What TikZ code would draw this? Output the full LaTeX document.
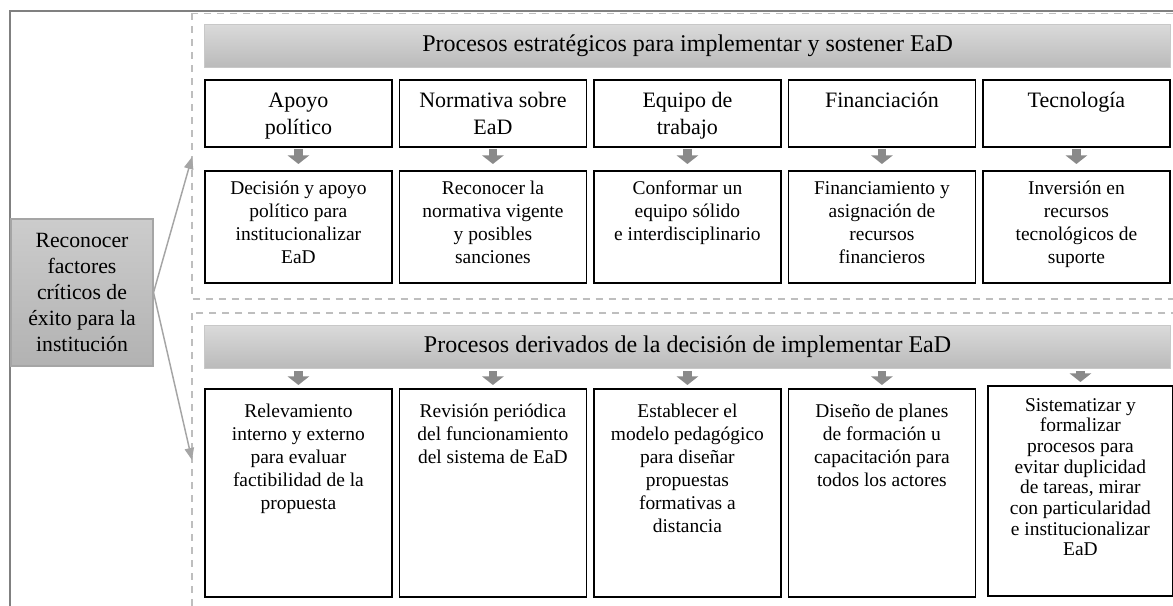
\documentclass[tikz,border=0pt]{standalone}
\usepackage{fontspec}
\setmainfont{Liberation Serif}
\usetikzlibrary{arrows.meta}
\definecolor{framec}{RGB}{128,128,128}
\definecolor{dashc}{RGB}{190,190,190}
\definecolor{bantop}{RGB}{218,218,218}
\definecolor{banbot}{RGB}{186,186,186}
\definecolor{banedge}{RGB}{200,200,200}
\definecolor{blkc}{RGB}{138,138,138}
\definecolor{lefttop}{RGB}{204,204,204}
\definecolor{leftbot}{RGB}{178,178,178}
\definecolor{leftedge}{RGB}{165,165,165}
\definecolor{thinc}{RGB}{165,165,165}
\newcommand{\cellA}[1]{\parbox[c][50.25pt][t]{140.25pt}{\centering\fontsize{16.5}{20}\selectfont\vspace*{7pt}\strut#1}}
\newcommand{\cellB}[1]{\parbox[c][84pt][t]{140.25pt}{\centering\fontsize{14.6}{17.3}\selectfont\vspace*{5.5pt}\strut#1}}
\newcommand{\cellC}[1]{\parbox[c][156pt][t]{140.25pt}{\centering\fontsize{14.6}{17.3}\selectfont\vspace*{9pt}\strut#1}}
\newcommand{\cellD}[1]{\parbox[c][157.5pt][t]{138.75pt}{\centering\fontsize{14.6}{15.5}\selectfont\vspace*{8pt}\strut#1}}
\tikzset{
  cellbox/.style={draw=black, line width=1.35pt, inner sep=0pt, anchor=north west},
  banner/.style={draw=banedge, line width=0.8pt, top color=bantop, bottom color=banbot,
    anchor=north west, minimum width=724.5pt, minimum height=32.25pt, inner sep=0pt,
    font=\fontsize{18}{21}\selectfont},
  leftbox/.style={draw=leftedge, line width=0.8pt, top color=lefttop, bottom color=leftbot,
    minimum width=106.5pt, minimum height=110.25pt, inner sep=0pt, align=center,
    font=\fontsize{16.3}{19.5}\selectfont},
  blockarrow/.style={blkc, line width=6.5pt, -{Triangle[width=16pt,length=6.5pt]}},
  thinarrow/.style={thinc, line width=1.1pt, -{Triangle[width=7pt,length=9pt]}},
  dashbox/.style={dashc, line width=1.1pt, dash pattern=on 5.25pt off 4.5pt},
}
\begin{document}
\begin{tikzpicture}[x=0.75pt,y=-0.75pt]
\useasboundingbox (0,0) rectangle (1173,606);
\clip (0,0) rectangle (1173,606);
\fill[white] (0,0) rectangle (1173,606);
% outer frame
\draw[framec, line width=1.1pt] (1190,11) -- (10,11) -- (10,620);
% dashed groups
\draw[dashbox] (192,13.5) rectangle (1190,299);
\draw[dashbox] (192,313) rectangle (1190,640);
% banners
\node[banner] (ban1) at (204,24) {Procesos estratégicos para implementar y sostener EaD};
\node[banner] (ban2) at (204,325) {Procesos derivados de la decisión de implementar EaD};
% top row
\node[cellbox] (a1) at (204,79) {\cellA{Apoyo\\político}};
\node[cellbox] (a2) at (398.5,79) {\cellA{Normativa sobre\\EaD}};
\node[cellbox] (a3) at (593,79) {\cellA{Equipo de\\trabajo}};
\node[cellbox] (a4) at (787.5,79) {\cellA{Financiación}};
\node[cellbox] (a5) at (982,79) {\cellA{Tecnología}};
% second row
\node[cellbox] (b1) at (204,170) {\cellB{Decisión y apoyo\\político para\\institucionalizar\\EaD}};
\node[cellbox] (b2) at (398.5,170) {\cellB{Reconocer la\\normativa vigente\\y posibles\\sanciones}};
\node[cellbox] (b3) at (593,170) {\cellB{Conformar un\\equipo sólido\\e interdisciplinario}};
\node[cellbox] (b4) at (787.5,170) {\cellB{Financiamiento y\\asignación de\\recursos\\financieros}};
\node[cellbox] (b5) at (982,170) {\cellB{Inversión en\\recursos\\tecnológicos de\\suporte}};
% bottom row
\node[cellbox] (c1) at (204,388) {\cellC{Relevamiento\\interno y externo\\para evaluar\\factibilidad de la\\propuesta}};
\node[cellbox] (c2) at (398.5,388) {\cellC{Revisión periódica\\del funcionamiento\\del sistema de EaD}};
\node[cellbox] (c3) at (593,388) {\cellC{Establecer el\\modelo pedagógico\\para diseñar\\propuestas\\formativas a\\distancia}};
\node[cellbox] (c4) at (787.5,388) {\cellC{Diseño de planes\\de formación u\\capacitación para\\todos los actores}};
\node[cellbox] (c5) at (987,385) {\cellD{Sistematizar y\\formalizar\\procesos para\\evitar duplicidad\\de tareas, mirar\\con particularidad\\e institucionalizar\\EaD}};
% left box
\node[leftbox] (lf) at (82,292.5) {Reconocer\\factores\\críticos de\\éxito para la\\institución};
\coordinate (upend) at (192,157);
\coordinate (lowend) at (192,460);
\draw[thinarrow] (lf.east) -- (upend);
\draw[thinarrow] (lf.east) -- (lowend);
% block arrows, top section
\foreach \i in {1,...,5}{
  \draw[blockarrow, shorten <=0.75pt, shorten >=4.5pt] (a\i.south) -- (b\i.north);
}
% block arrows, bottom section
\foreach \i in {1,...,5}{
  \draw[blockarrow, shorten <=1.5pt, shorten >=2.25pt] (c\i.north |- ban2.south) -- (c\i.north);
}
\end{tikzpicture}
\end{document}
